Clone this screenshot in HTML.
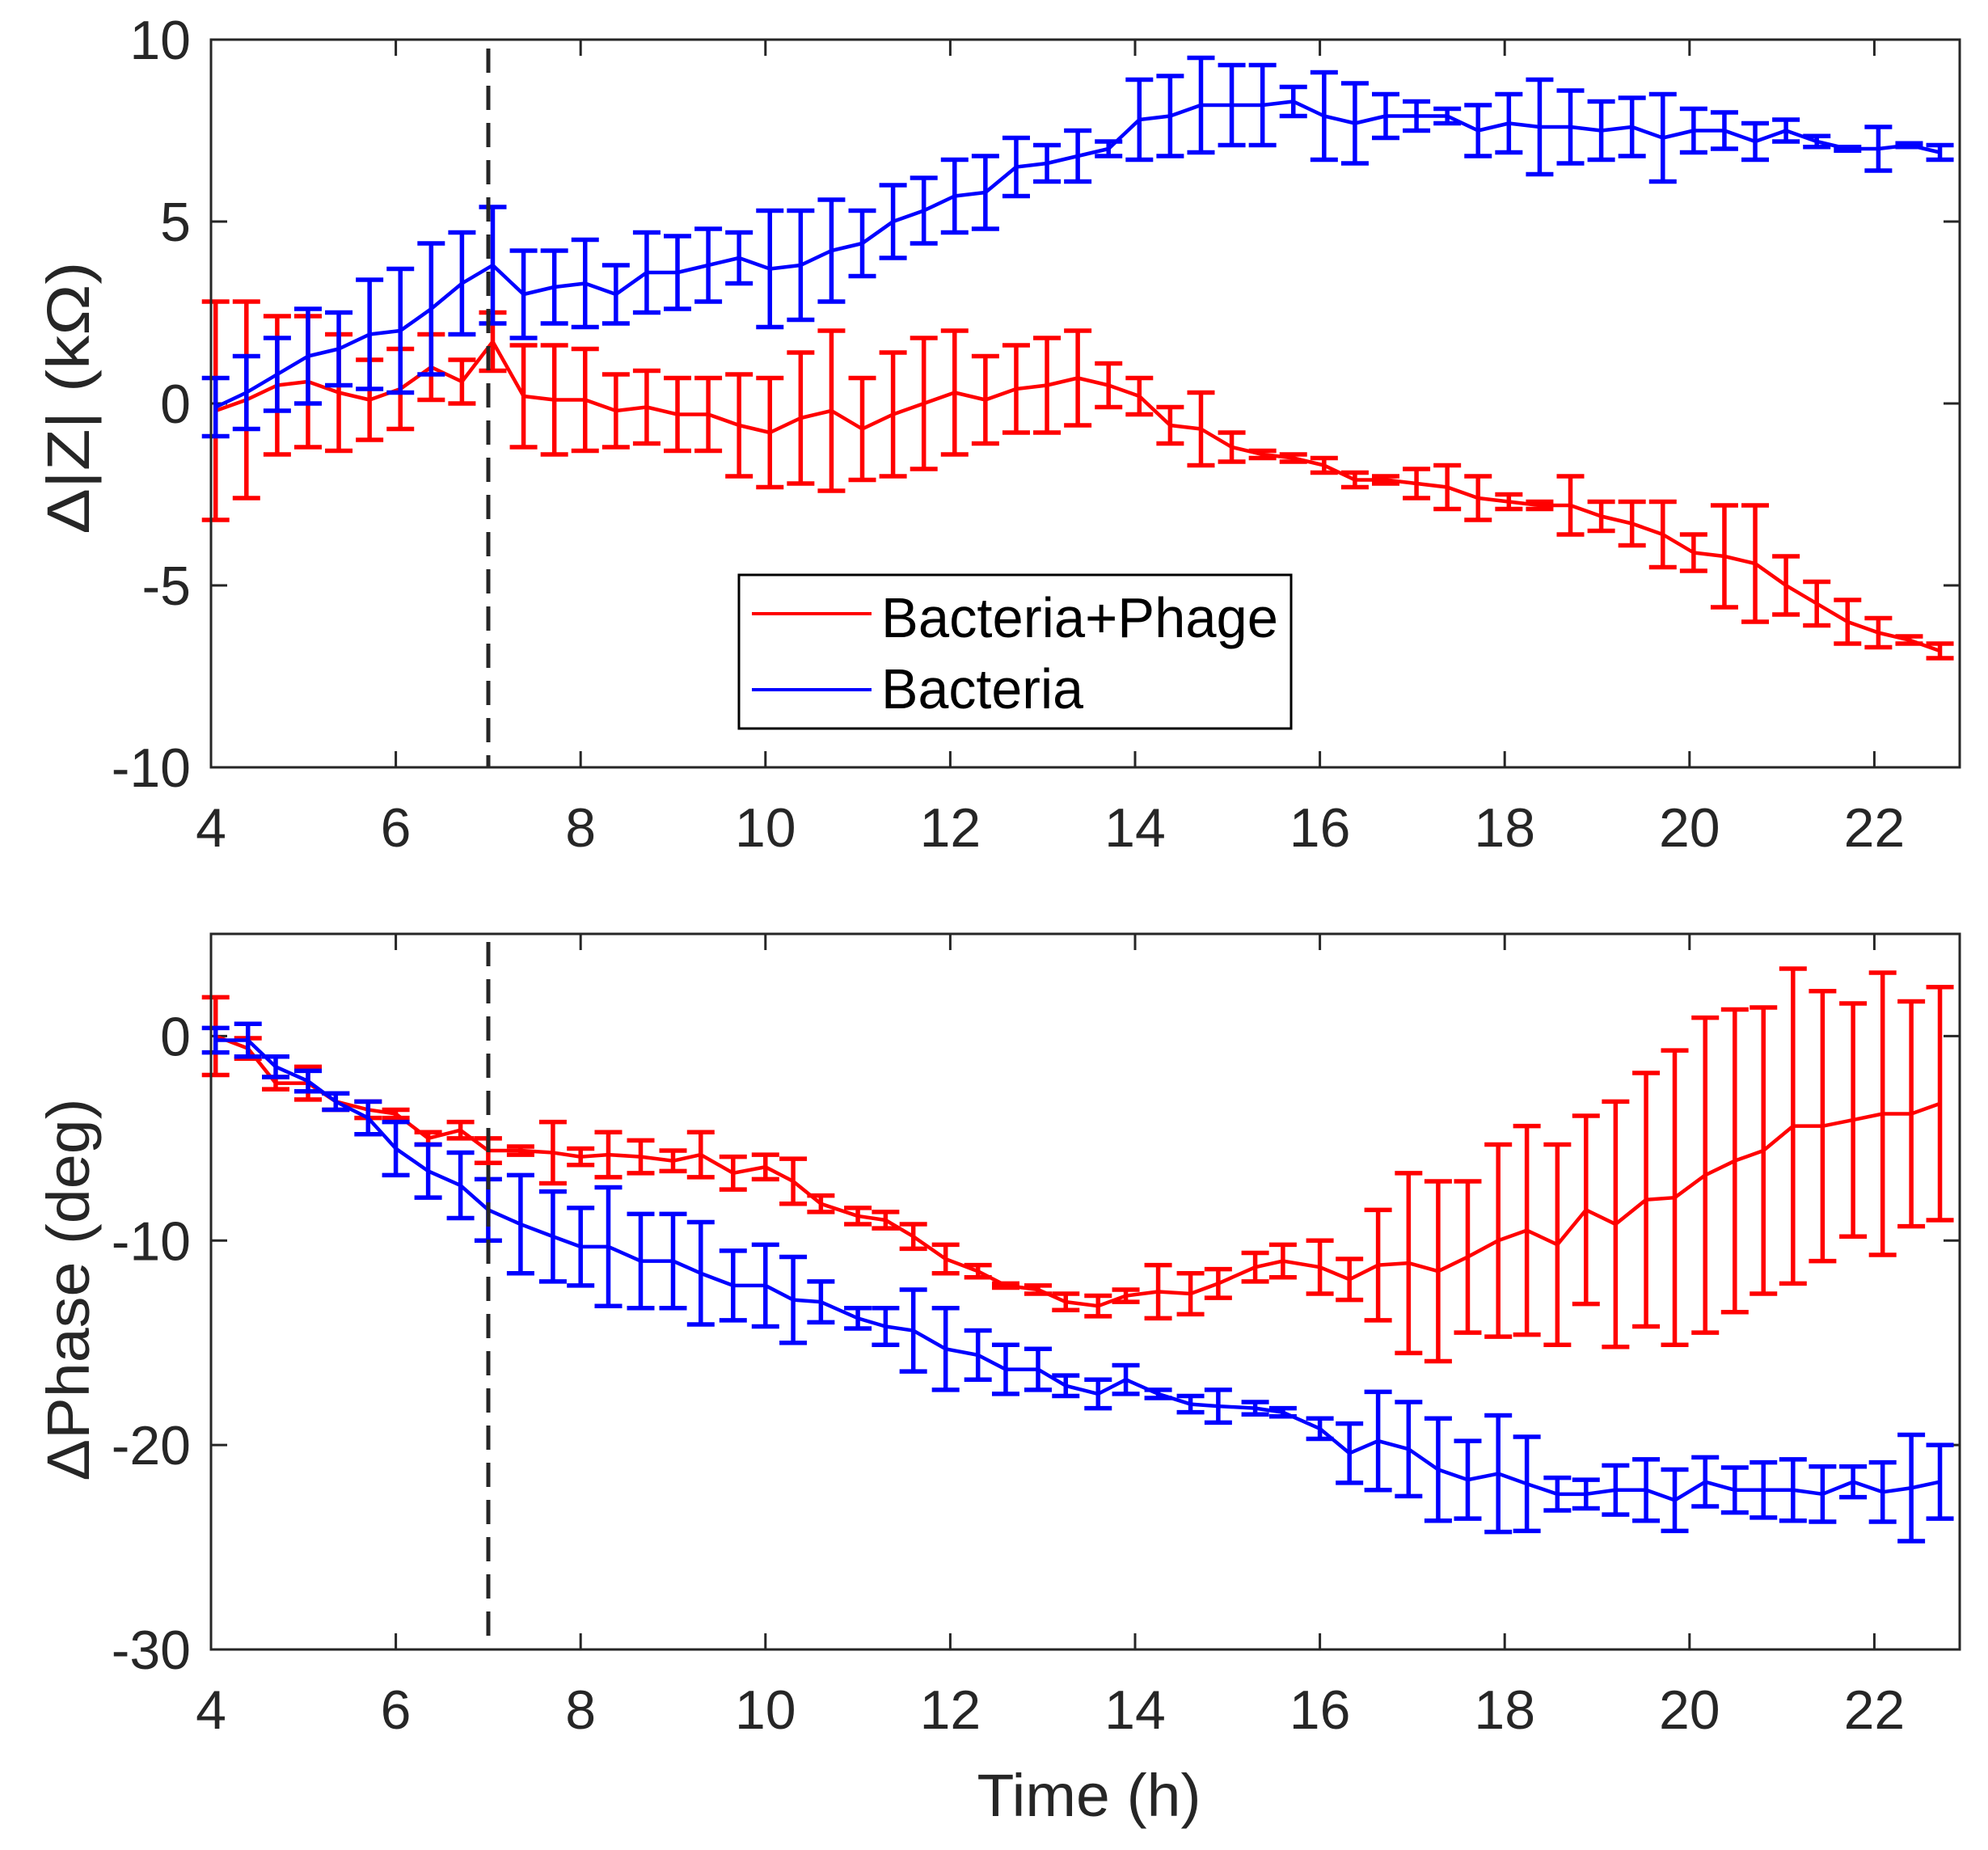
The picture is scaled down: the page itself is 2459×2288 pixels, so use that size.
<!DOCTYPE html>
<html><head><meta charset="utf-8"><style>
html,body{margin:0;padding:0;background:#fff;}
svg{display:block;}
text{font-family:"Liberation Sans",Arial,sans-serif;fill:#262626;}
</style></head><body>
<svg id="s" width="2459" height="2288" xmlns="http://www.w3.org/2000/svg"></svg>
<script>
const S=document.getElementById('s');
let h='';
const X0=261,X1=2424,PX=114.3;
const tx=t=>X0+(t-4)*PX;
function axes(top,bot,ymin,ymax,ticks,lbl,lblLen,lblCy){
  const ty=v=>bot-(v-ymin)/(ymax-ymin)*(bot-top);
  for(let t=4;t<=22;t+=2){const x=tx(t);
    h+=`<line x1="${x}" y1="${bot}" x2="${x}" y2="${bot-20}" stroke="#262626" stroke-width="3"/>`;
    h+=`<line x1="${x}" y1="${top}" x2="${x}" y2="${top+20}" stroke="#262626" stroke-width="3"/>`;
    h+=`<text x="${x}" y="${bot+98}" font-size="68" text-anchor="middle">${t}</text>`;}
  for(const v of ticks){const y=ty(v);
    h+=`<line x1="${X0}" y1="${y}" x2="${X0+20}" y2="${y}" stroke="#262626" stroke-width="3"/>`;
    h+=`<line x1="${X1}" y1="${y}" x2="${X1-20}" y2="${y}" stroke="#262626" stroke-width="3"/>`;
    h+=`<text x="236" y="${y+24}" font-size="68" text-anchor="end">${v}</text>`;}
  h+=`<text transform="translate(110 ${lblCy}) rotate(-90)" font-size="74" text-anchor="middle" textLength="${lblLen}" lengthAdjust="spacingAndGlyphs">${lbl}</text>`;
  return ty;
}
function series(ty,pts,col){
  let d='';
  for(const [t,v,e] of pts){const x=tx(t),a=ty(v+e),b=ty(v-e);
    d+=`M${x} ${a}V${b}M${x-17} ${a}H${x+17}M${x-17} ${b}H${x+17}`;}
  h+=`<path d="${d}" stroke="${col}" stroke-width="5.5" fill="none"/>`;
  h+=`<polyline points="${pts.map(p=>tx(p[0])+','+ty(p[1])).join(' ')}" stroke="${col}" stroke-width="4.5" fill="none" stroke-linejoin="round"/>`;
}
function idx(arr){return arr.map((p,i)=>[4.05+i*18.66/56,p[0],p[1]]);}
const bZ=idx([[-0.1,0.8],[0.3,1.0],[0.8,1.0],[1.3,1.3],[1.5,1.0],[1.9,1.5],[2.0,1.7],[2.6,1.8],[3.3,1.4],[3.8,1.6],[3.0,1.2],[3.2,1.0],[3.3,1.2],[3.0,0.8],[3.6,1.1],[3.6,1.0],[3.8,1.0],[4.0,0.7],[3.7,1.6],[3.8,1.5],[4.2,1.4],[4.4,0.9],[5.0,1.0],[5.3,0.9],[5.7,1.0],[5.8,1.0],[6.5,0.8],[6.6,0.5],[6.8,0.7],[7.0,0.2],[7.8,1.1],[7.9,1.1],[8.2,1.3],[8.2,1.1],[8.2,1.1],[8.3,0.4],[7.9,1.2],[7.7,1.1],[7.9,0.6],[7.9,0.4],[7.9,0.2],[7.5,0.7],[7.7,0.8],[7.6,1.3],[7.6,1.0],[7.5,0.8],[7.6,0.8],[7.3,1.2],[7.5,0.6],[7.5,0.5],[7.2,0.5],[7.5,0.3],[7.2,0.15],[7.0,0.05],[7.0,0.6],[7.1,0.05],[6.9,0.2]]);
const rZ=idx([[-0.2,3.0],[0.1,2.7],[0.5,1.9],[0.6,1.8],[0.3,1.6],[0.1,1.1],[0.4,1.1],[1.0,0.9],[0.6,0.6],[1.7,0.8],[0.2,1.4],[0.1,1.5],[0.1,1.4],[-0.2,1.0],[-0.1,1.0],[-0.3,1.0],[-0.3,1.0],[-0.6,1.4],[-0.8,1.5],[-0.4,1.8],[-0.2,2.2],[-0.7,1.4],[-0.3,1.7],[0.0,1.8],[0.3,1.7],[0.1,1.2],[0.4,1.2],[0.5,1.3],[0.7,1.3],[0.5,0.6],[0.2,0.5],[-0.6,0.5],[-0.7,1.0],[-1.2,0.4],[-1.4,0.1],[-1.5,0.1],[-1.7,0.2],[-2.1,0.2],[-2.1,0.1],[-2.2,0.4],[-2.3,0.6],[-2.6,0.6],[-2.7,0.2],[-2.8,0.1],[-2.8,0.8],[-3.1,0.4],[-3.3,0.6],[-3.6,0.9],[-4.1,0.5],[-4.2,1.4],[-4.4,1.6],[-5.0,0.8],[-5.5,0.6],[-6.0,0.6],[-6.3,0.4],[-6.5,0.1],[-6.8,0.2]]);
let ty=axes(49,949,-10,10,[10,5,0,-5,-10],'Δ|Z| (kΩ)',337,492);
series(ty,rZ,'#ff0000');series(ty,bZ,'#0000ff');
h+=`<line x1="604" y1="60" x2="604" y2="949" stroke="#262626" stroke-width="5" stroke-dasharray="30 16"/>`;
h+=`<rect x="261" y="49" width="2163" height="900" fill="none" stroke="#262626" stroke-width="3"/>`;
h+=`<rect x="914" y="711" width="683" height="190" fill="#fff" stroke="#000" stroke-width="3"/>`;
h+=`<line x1="930" y1="759" x2="1078" y2="759" stroke="#ff0000" stroke-width="4"/>`;
h+=`<line x1="930" y1="853" x2="1078" y2="853" stroke="#0000ff" stroke-width="4"/>`;
h+=`<text x="1090" y="788" font-size="70" style="fill:#000" textLength="491" lengthAdjust="spacingAndGlyphs">Bacteria+Phage</text>`;
h+=`<text x="1090" y="876" font-size="70" style="fill:#000" textLength="250" lengthAdjust="spacingAndGlyphs">Bacteria</text>`;
const rP=[[4.05,0,1.9],[4.4,-0.6,0.5],[4.7,-2.3,0.3],[5.05,-2.3,0.8],[5.35,-3.2,0.4],[5.7,-3.6,0.4],[6.0,-3.8,0.2],[6.35,-5.0,0.3],[6.7,-4.6,0.4],[7.0,-5.6,0.6],[7.35,-5.6,0.2],[7.7,-5.7,1.5],[8.0,-5.9,0.4],[8.3,-5.8,1.1],[8.65,-5.9,0.8],[9.0,-6.1,0.5],[9.3,-5.8,1.1],[9.65,-6.7,0.8],[10.0,-6.4,0.6],[10.3,-7.1,1.1],[10.6,-8.2,0.4],[11.0,-8.8,0.4],[11.3,-9.0,0.4],[11.6,-9.8,0.6],[11.95,-10.9,0.7],[12.3,-11.5,0.3],[12.6,-12.2,0.1],[12.95,-12.4,0.2],[13.25,-13.0,0.4],[13.6,-13.2,0.5],[13.9,-12.7,0.3],[14.25,-12.5,1.3],[14.6,-12.6,1.0],[14.9,-12.1,0.7],[15.3,-11.3,0.7],[15.6,-11.0,0.8],[16.0,-11.3,1.3],[16.32,-11.9,1.0],[16.63,-11.2,2.7],[16.96,-11.1,4.4],[17.28,-11.5,4.4],[17.6,-10.8,3.7],[17.93,-10.0,4.7],[18.24,-9.5,5.1],[18.57,-10.2,4.9],[18.88,-8.5,4.6],[19.2,-9.2,6.0],[19.53,-8.0,6.2],[19.84,-7.9,7.2],[20.17,-6.8,7.7],[20.49,-6.1,7.4],[20.8,-5.6,7.0],[21.12,-4.4,7.7],[21.44,-4.4,6.6],[21.77,-4.1,5.7],[22.09,-3.8,6.9],[22.4,-3.8,5.5],[22.71,-3.3,5.7]];
const bP=[[4.05,-0.2,0.6],[4.4,-0.2,0.8],[4.7,-1.5,0.5],[5.05,-2.2,0.5],[5.35,-3.2,0.4],[5.7,-4.0,0.8],[6.0,-5.5,1.3],[6.35,-6.6,1.3],[6.7,-7.3,1.6],[7.0,-8.5,1.5],[7.35,-9.2,2.4],[7.7,-9.8,2.2],[8.0,-10.3,1.9],[8.3,-10.3,2.9],[8.65,-11.0,2.3],[9.0,-11.0,2.3],[9.3,-11.6,2.5],[9.65,-12.2,1.7],[10.0,-12.2,2.0],[10.3,-12.9,2.1],[10.6,-13.0,1.0],[11.0,-13.8,0.5],[11.3,-14.2,0.9],[11.6,-14.4,2.0],[11.95,-15.3,2.0],[12.3,-15.6,1.2],[12.6,-16.3,1.2],[12.95,-16.3,1.0],[13.25,-17.1,0.5],[13.6,-17.5,0.7],[13.9,-16.8,0.7],[14.25,-17.5,0.2],[14.6,-18.0,0.4],[14.9,-18.1,0.8],[15.3,-18.2,0.3],[15.6,-18.4,0.2],[16.0,-19.2,0.5],[16.32,-20.4,1.45],[16.63,-19.8,2.4],[16.96,-20.2,2.3],[17.28,-21.2,2.5],[17.6,-21.7,1.9],[17.93,-21.4,2.85],[18.24,-21.9,2.3],[18.57,-22.4,0.8],[18.88,-22.4,0.7],[19.2,-22.2,1.2],[19.53,-22.2,1.5],[19.84,-22.7,1.5],[20.17,-21.8,1.2],[20.49,-22.2,1.1],[20.8,-22.2,1.35],[21.12,-22.2,1.5],[21.44,-22.4,1.35],[21.77,-21.8,0.75],[22.09,-22.3,1.45],[22.4,-22.1,2.6],[22.71,-21.8,1.8]];
ty=axes(1155,2040,-30,5,[0,-10,-20,-30],'ΔPhase (deg)',473,1595);
series(ty,rP,'#ff0000');series(ty,bP,'#0000ff');
h+=`<line x1="604" y1="1165" x2="604" y2="2040" stroke="#262626" stroke-width="5" stroke-dasharray="30 16"/>`;
h+=`<rect x="261" y="1155" width="2163" height="885" fill="none" stroke="#262626" stroke-width="3"/>`;
h+=`<text x="1347" y="2246" font-size="74" text-anchor="middle" textLength="277" lengthAdjust="spacingAndGlyphs">Time (h)</text>`;
S.innerHTML=h;
</script>
</body></html>
